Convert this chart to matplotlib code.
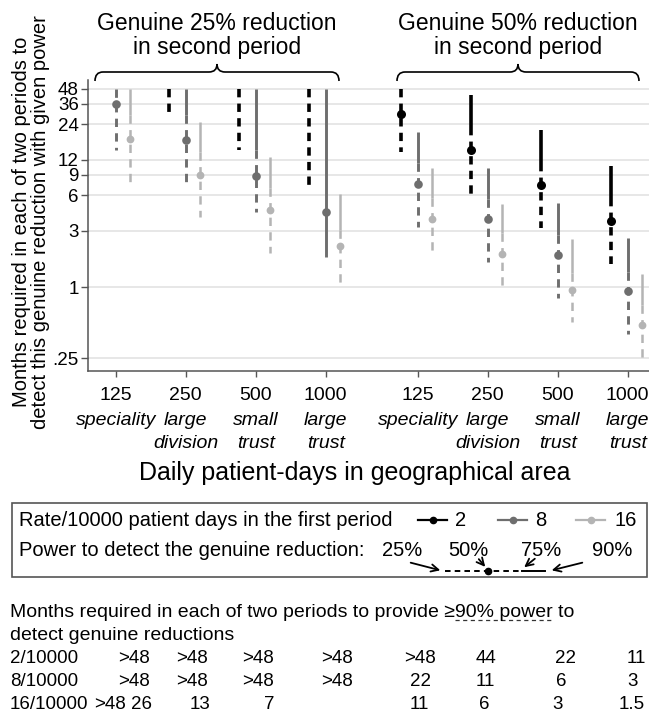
import numpy as np
import matplotlib.pyplot as plt
import matplotlib.transforms as mtransforms
from matplotlib.path import Path
from matplotlib.patches import PathPatch, Rectangle, FancyArrowPatch
from matplotlib.lines import Line2D
from matplotlib.ticker import NullLocator

plt.rcParams['font.family'] = ['Liberation Sans', 'DejaVu Sans']
plt.rcParams['lines.scale_dashes'] = False

# ---------------- data ----------------
areas = ['125', '250', '500', '1000', '125', '250', '500', '1000']
area_names = [['speciality'], ['large', 'division'], ['small', 'trust'], ['large', 'trust'],
              ['speciality'], ['large', 'division'], ['small', 'trust'], ['large', 'trust']]
reductions = [['Genuine 25% reduction', 'in second period'],
              ['Genuine 50% reduction', 'in second period']]
rates = ['2', '8', '16']

NA = np.inf  # more than 48 months needed
# months needed in each period for 25/50/75/90% power (rows: rate 2, 8, 16)
power25 = [[NA, 29.9, 14.5, 7.3, 14.0, 6.2, 3.15, 1.58],
           [14.5, 7.2, 4.35, 1.81, 3.25, 1.64, 0.80, 0.40],
           [7.8, 3.95, 1.93, 1.0, 2.0, 1.0, 0.51, 0.24]]
power50 = [[NA, NA, NA, NA, 29.7, 14.7, 7.3, 3.67],
           [35.5, 17.6, 8.75, 4.35, 7.5, 3.75, 1.87, 0.93],
           [18.0, 9.0, 4.5, 2.24, 3.8, 1.9, 0.94, 0.48]]
power75 = [[NA, NA, NA, NA, NA, 22.9, 11.2, 5.65],
           [NA, 28.8, 14.5, 1.81, 11.2, 5.6, 2.76, 1.35],
           [28.8, 14.0, 6.9, 3.05, 5.65, 2.86, 1.31, 0.70]]
power90 = [[NA, NA, NA, NA, NA, 42.5, 21.5, 10.6],
           [NA, NA, NA, NA, 20.8, 10.2, 5.2, 2.6],
           [NA, 25.2, 12.6, 6.2, 10.2, 5.1, 2.54, 1.29]]

yticks = [0.25, 1, 3, 6, 9, 12, 24, 36, 48]
ytick_labels = ['.25', '1', '3', '6', '9', '12', '24', '36', '48']

power_labels = ['25%', '50%', '75%', '90%']
table_rows = ['2/10000', '8/10000', '16/10000']
table_vals = [['>48', '>48', '>48', '>48', '>48', '44', '22', '11'],
              ['>48', '>48', '>48', '>48', '22', '11', '6', '3'],
              ['>48', '26', '13', '7', '11', '6', '3', '1.5']]

# ---------------- layout ----------------
W, H = 649, 718
CAP = 48
group_x = np.array([0, 1, 2, 3, 4.314, 5.314, 6.314, 7.314])
rate_offset = [-0.236, 0, 0.2]
rate_color = ['#000000', '#6e6e6e', '#b4b4b4']
rate_lw = [2.6, 2.1, 1.8]
rate_ms = [6.5, 6.2, 5.6]
dash = (0, (6, 4.5))


def fx(px):
    return px / W


def fy(py):
    return 1 - py / H


fig = plt.figure(figsize=(W / 100, H / 100), dpi=100)
ax = fig.add_axes([fx(88), fy(371), fx(649) - fx(88), fy(80) - fy(371)])

for i in range(3):
    x = group_x + rate_offset[i]
    lo = np.minimum(power25[i], CAP)
    mid = np.array(power50[i])
    hi = np.minimum(power75[i], CAP)
    top = np.minimum(power90[i], CAP)
    for g in range(len(x)):
        if lo[g] < hi[g]:
            ax.plot([x[g], x[g]], [hi[g], lo[g]], color=rate_color[i], lw=rate_lw[i],
                    ls=dash, dash_capstyle='butt')
        if hi[g] < top[g]:
            ax.plot([x[g], x[g]], [top[g], hi[g]], color=rate_color[i], lw=rate_lw[i],
                    solid_capstyle='butt')
        if mid[g] < CAP:
            ax.plot(x[g], mid[g], 'o', color=rate_color[i], ms=rate_ms[i], mec='none')

ax.set_yscale('log')
ax.set_ylim(0.194, 57.2)
ax.set_xlim(-0.396, 7.619)
ax.set_yticks(yticks)
ax.set_yticklabels(ytick_labels)
ax.yaxis.set_minor_locator(NullLocator())
ax.set_xticks(group_x)
ax.set_xticklabels(areas)
ax.grid(axis='y', color='#e3e3e3', lw=1.2)
ax.set_axisbelow(True)
for s in ['top', 'right']:
    ax.spines[s].set_visible(False)
for s in ['left', 'bottom']:
    ax.spines[s].set_color('#555555')
    ax.spines[s].set_linewidth(1.1)
ax.tick_params(axis='y', length=5, width=1, color='#555555', pad=1.5, labelsize=13.5)
ax.tick_params(axis='x', length=4.3, width=1, color='#555555', pad=7, labelsize=14)

# italic area names under the tick numbers
trans = mtransforms.blended_transform_factory(ax.transData, fig.transFigure)
for gx, names in zip(group_x, area_names):
    for k, name in enumerate(names):
        ax.text(gx, fy(425 + 23 * k), name, transform=trans, ha='center', va='baseline',
                style='italic', fontsize=14)

fig.text(fx(355), fy(480), 'Daily patient-days in geographical area', ha='center',
         va='baseline', fontsize=18)

# y label (two lines)
fig.text(fx(22), fy(222), 'Months required in each of two periods to', rotation=90,
         ha='center', va='center', fontsize=14.5)
fig.text(fx(41), fy(222), 'detect this genuine reduction with given power', rotation=90,
         ha='center', va='center', fontsize=14.5)


# braces with titles above the two halves
def brace(x0, x1, y_end=81, y_mid=72, y_tip=64, r=8):
    xc = (x0 + x1) / 2
    pts = [(x0, y_end), (x0, y_mid), (x0 + r, y_mid),
           (xc - r, y_mid), (xc, y_mid), (xc, y_tip),
           (xc, y_mid), (xc + r, y_mid),
           (x1 - r, y_mid), (x1, y_mid), (x1, y_end)]
    codes = [Path.MOVETO, Path.CURVE3, Path.CURVE3,
             Path.LINETO, Path.CURVE3, Path.CURVE3,
             Path.CURVE3, Path.CURVE3,
             Path.LINETO, Path.CURVE3, Path.CURVE3]
    path = Path([(fx(a), fy(b)) for a, b in pts], codes)
    fig.add_artist(PathPatch(path, transform=fig.transFigure, fill=False, lw=1.2, ec='black'))


for (x0, x1), lines in zip([(95, 339), (397, 639)], reductions):
    brace(x0, x1)
    xc = (x0 + x1) / 2
    fig.text(fx(xc), fy(30), lines[0], ha='center', va='baseline', fontsize=16.5)
    fig.text(fx(xc), fy(54), lines[1], ha='center', va='baseline', fontsize=16.5)

# legend box
fig.add_artist(Rectangle((fx(12), fy(577)), fx(647) - fx(12), fy(503) - fy(577),
                         transform=fig.transFigure, fill=False, ec='#555555', lw=1.2))
fig.text(fx(19), fy(521), 'Rate/10000 patient days in the first period', ha='left',
         va='center', fontsize=14.5)
for (lx0, lx1, tx), lab, col in zip([(418, 447, 455), (498, 527, 535), (576, 605, 614)],
                                    rates, rate_color):
    fig.add_artist(Line2D([fx(lx0), fx((lx0 + lx1) / 2), fx(lx1)], [fy(520)] * 3,
                          transform=fig.transFigure, color=col, lw=1.6, marker='o',
                          ms=4.5, markevery=[1]))
    fig.text(fx(tx), fy(521), lab, ha='left', va='center', fontsize=14.5)

fig.text(fx(19), fy(551), 'Power to detect the genuine reduction:', ha='left',
         va='center', fontsize=14.5)
for lab, px in zip(power_labels, [402, 468, 541, 612]):
    fig.text(fx(px), fy(551), lab, ha='center', va='center', fontsize=14.5)

fig.add_artist(Line2D([fx(445), fx(521)], [fy(571)] * 2, transform=fig.transFigure,
                      color='black', lw=1.4, ls=(0, (4, 3))))
fig.add_artist(Line2D([fx(522), fx(545)], [fy(571)] * 2, transform=fig.transFigure,
                      color='black', lw=1.4))
fig.add_artist(Line2D([fx(488)], [fy(571)], transform=fig.transFigure, color='black',
                      marker='o', ms=4.5))
for (ax0, ay0), (ax1, ay1) in [((408, 562), (443, 571)), ((477, 557), (487, 569)),
                               ((537, 557), (522, 569)), ((585, 562), (549, 571))]:
    fig.add_artist(FancyArrowPatch((fx(ax0), fy(ay0)), (fx(ax1), fy(ay1)),
                                   transform=fig.transFigure, arrowstyle='->',
                                   mutation_scale=13, lw=1.3, color='black'))

# table of months for >=90% power
prefix = 'Months required in each of two periods to provide '
fig.text(fx(10), fy(617), prefix + '\u226590% power to', ha='left', va='baseline',
         fontsize=14)
fig.text(fx(10), fy(640), 'detect genuine reductions', ha='left', va='baseline', fontsize=14)

fig.canvas.draw()
rend = fig.canvas.get_renderer()
tmp = fig.text(fx(10), fy(617), prefix + '\u2265', ha='left', va='baseline', fontsize=14)
ux0 = tmp.get_window_extent(rend).x1
tmp.set_text(prefix + '\u226590% power')
ux1 = tmp.get_window_extent(rend).x1
tmp.remove()
fig.add_artist(Line2D([ux0 / W, ux1 / W], [fy(620)] * 2, transform=fig.transFigure,
                      color='#333333', lw=0.9, ls=(0, (3, 2.5))))

col_x = [[134, 192, 258, 337, 420, 486, 566, 636],
         [134, 192, 258, 337, 421, 485, 561, 633],
         [110, 142, 200, 269, 419, 484, 558, 632]]
for r, (lab, vals) in enumerate(zip(table_rows, table_vals)):
    yb = 663 + 23 * r
    fig.text(fx(10), fy(yb), lab, ha='left', va='baseline', fontsize=13.5)
    for v, cx in zip(vals, col_x[r]):
        fig.text(fx(cx), fy(yb), v, ha='center', va='baseline', fontsize=13.5)

fig.savefig('out.png', dpi=100)
